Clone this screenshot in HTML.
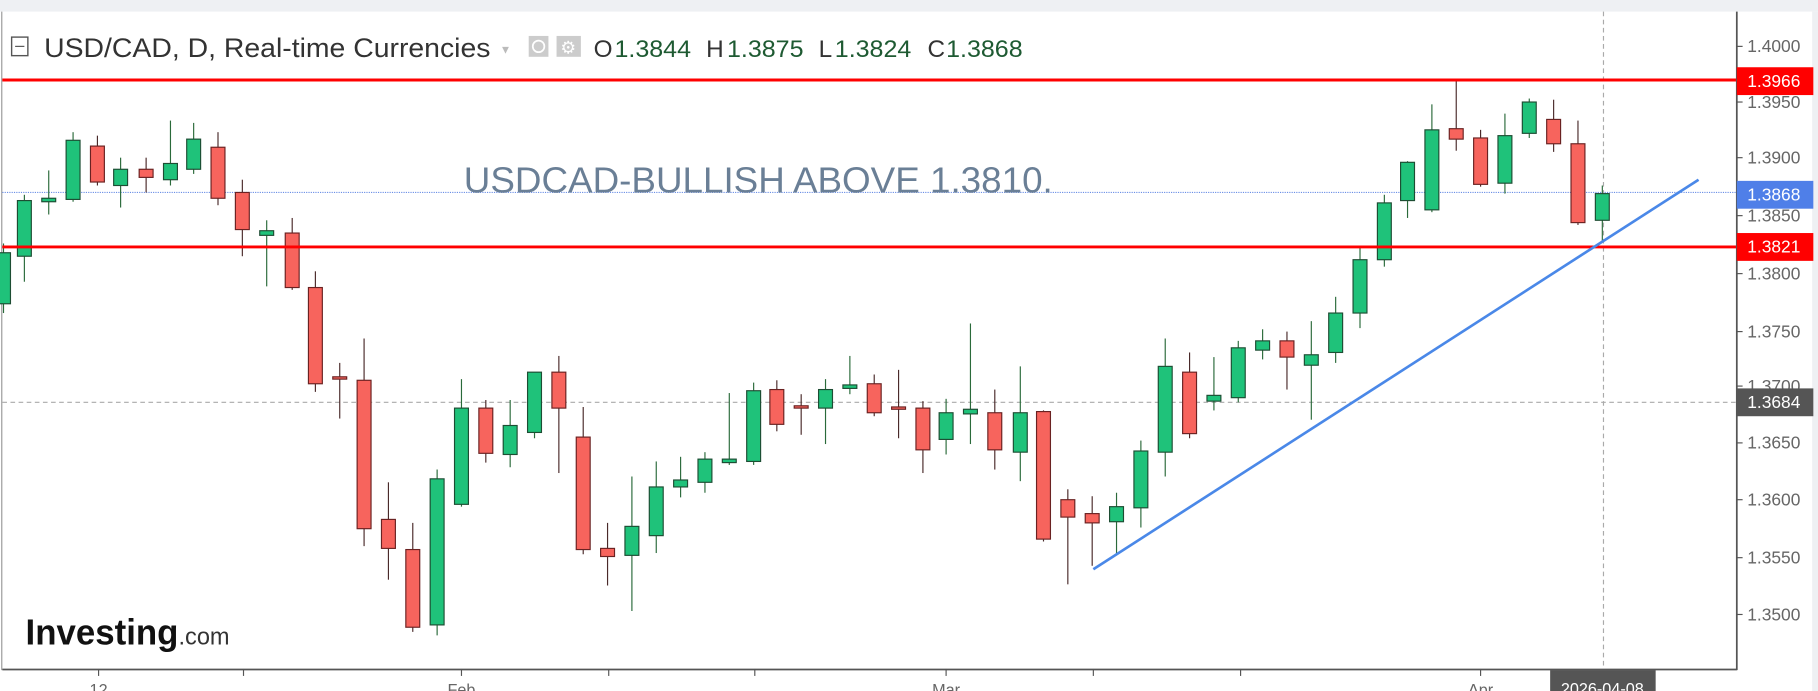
<!DOCTYPE html>
<html><head><meta charset="utf-8"><style>
html,body{margin:0;padding:0;background:#fff;overflow:hidden}
svg{display:block}
text{font-family:"Liberation Sans",Arial,sans-serif}
</style></head><body>
<svg width="1818" height="691" viewBox="0 0 1568 596" xmlns="http://www.w3.org/2000/svg">
<rect x="0" y="0" width="1568" height="596" fill="#fff"/>
<rect x="0" y="0" width="1568" height="10" fill="#eef0f3"/>
<rect x="1563" y="10" width="5" height="586" fill="#eef0f3"/>
<line x1="1.5" y1="10" x2="1.5" y2="578" stroke="#999" stroke-width="1"/>
<line x1="2" y1="166" x2="1498" y2="166" stroke="#6b8fe6" stroke-width="1" stroke-dasharray="1,1"/>
<line x1="2" y1="347" x2="1498" y2="347" stroke="#aaa" stroke-width="1" stroke-dasharray="4,3"/>
<line x1="1383" y1="10" x2="1383" y2="577" stroke="#aaa" stroke-width="1" stroke-dasharray="4,3"/>
<g id="candles"></g>
<line x1="2" y1="69" x2="1498" y2="69" stroke="#f00" stroke-width="2.5"/>
<line x1="2" y1="213" x2="1498" y2="213" stroke="#f00" stroke-width="2.5"/>
<line x1="943" y1="491" x2="1465" y2="155" stroke="#4a88e8" stroke-width="2.3"/>
<line x1="1498" y1="10" x2="1498" y2="578" stroke="#555" stroke-width="1.5"/>
<line x1="2" y1="577.5" x2="1498" y2="577.5" stroke="#555" stroke-width="1.5"/>
<g font-size="15" fill="#666">
<g stroke="#555"><line x1="1498" y1="40" x2="1503" y2="40"/><line x1="1498" y1="88" x2="1503" y2="88"/><line x1="1498" y1="136" x2="1503" y2="136"/><line x1="1498" y1="186" x2="1503" y2="186"/><line x1="1498" y1="236" x2="1503" y2="236"/><line x1="1498" y1="286" x2="1503" y2="286"/><line x1="1498" y1="333" x2="1503" y2="333"/><line x1="1498" y1="382" x2="1503" y2="382"/><line x1="1498" y1="431" x2="1503" y2="431"/><line x1="1498" y1="481" x2="1503" y2="481"/><line x1="1498" y1="530" x2="1503" y2="530"/></g>
<text x="1507" y="45">1.4000</text><text x="1507" y="93">1.3950</text><text x="1507" y="141">1.3900</text><text x="1507" y="191">1.3850</text><text x="1507" y="241">1.3800</text><text x="1507" y="291">1.3750</text><text x="1507" y="338">1.3700</text><text x="1507" y="387">1.3650</text><text x="1507" y="436">1.3600</text><text x="1507" y="486">1.3550</text><text x="1507" y="535">1.3500</text>
</g>
<g font-size="15" fill="#fff">
<rect x="1498" y="58" width="66" height="24" fill="#f00"/><text x="1507" y="75">1.3966</text>
<rect x="1498" y="156" width="66" height="24" fill="#4f7fe8"/><text x="1507" y="173">1.3868</text>
<rect x="1498" y="201" width="66" height="24" fill="#f00"/><text x="1507" y="218">1.3821</text>
<rect x="1498" y="335" width="66" height="24" fill="#555"/><text x="1507" y="352">1.3684</text>
</g>
<g stroke="#555"><line x1="85" y1="577" x2="85" y2="583"/><line x1="210" y1="577" x2="210" y2="583"/><line x1="398" y1="577" x2="398" y2="583"/><line x1="525" y1="577" x2="525" y2="583"/><line x1="651" y1="577" x2="651" y2="583"/><line x1="816" y1="577" x2="816" y2="583"/><line x1="943" y1="577" x2="943" y2="583"/><line x1="1070" y1="577" x2="1070" y2="583"/><line x1="1277" y1="577" x2="1277" y2="583"/></g>
<g font-size="14" fill="#666" text-anchor="middle"><text x="85" y="600">12</text><text x="398" y="600">Feb</text><text x="816" y="600">Mar</text><text x="1277" y="600">Apr</text></g>
<rect x="1337" y="578" width="91" height="20" fill="#555"/>
<text x="1382" y="599" font-size="14" fill="#fff" text-anchor="middle">2026-04-08</text>
<rect x="10" y="32" width="14" height="16" fill="none" stroke="#555" stroke-width="1.2"/><line x1="13" y1="40" x2="21" y2="40" stroke="#555"/>
<text x="38" y="49" font-size="23" fill="#333" textLength="385" lengthAdjust="spacingAndGlyphs">USD/CAD, D, Real-time Currencies</text>
<text x="431" y="46" font-size="10" fill="#bbb">▼</text>
<rect x="456" y="31" width="17" height="18" fill="#ccc"/><rect x="480" y="31" width="21" height="18" fill="#ccc"/>
<circle cx="464.5" cy="40" r="5" fill="none" stroke="#fff" stroke-width="1.5"/><text x="490" y="46" font-size="15" fill="#fff" text-anchor="middle">⚙</text>
<g font-size="21"><text x="512" y="49" fill="#333">O</text><text x="530" y="49" fill="#1e5a32" textLength="66" lengthAdjust="spacingAndGlyphs">1.3844</text><text x="609" y="49" fill="#333">H</text><text x="627" y="49" fill="#1e5a32" textLength="66" lengthAdjust="spacingAndGlyphs">1.3875</text><text x="706" y="49" fill="#333">L</text><text x="720" y="49" fill="#1e5a32" textLength="66" lengthAdjust="spacingAndGlyphs">1.3824</text><text x="800" y="49" fill="#333">C</text><text x="816" y="49" fill="#1e5a32" textLength="66" lengthAdjust="spacingAndGlyphs">1.3868</text></g>
<text x="400" y="166" font-size="31" fill="#6a7f96" textLength="508" lengthAdjust="spacingAndGlyphs">USDCAD-BULLISH ABOVE 1.3810.</text>
<text x="22" y="556" font-size="31" font-weight="bold" fill="#111" textLength="176" lengthAdjust="spacingAndGlyphs">Investing<tspan font-size="21" font-weight="normal" fill="#333">.com</tspan></text>
</svg>
<script>
var d=[[3,'g',210,218,262,270],[21,'g',168,173,221,243],[42,'g',147,171,174,185],[63,'g',114,121,172,174],[84,'r',117,126,157,160],[104,'g',136,146,160,179],[126,'r',136,146,153,166],[147,'g',104,141,155,160],[167,'g',106,120,146,150],[188,'r',114,127,171,177],[209,'r',155,166,198,221],[230,'g',190,199,203,247],[252,'r',188,201,248,250],[272,'r',234,248,331,338],[293,'r',313,325,327,361],[314,'r',292,328,456,471],[335,'r',416,448,473,500],[356,'r',451,474,541,545],[377,'g',405,413,539,548],[398,'g',327,352,435,437],[419,'r',345,352,391,399],[440,'g',345,367,392,403],[461,'g',321,321,373,378],[482,'r',307,321,352,408],[503,'r',351,377,474,478],[524,'r',451,473,480,505],[545,'g',411,454,479,527],[566,'g',398,420,462,477],[587,'g',394,414,420,429],[608,'g',390,396,416,425],[629,'g',339,396,399,401],[650,'g',330,337,398,401],[670,'r',328,336,366,372],[691,'r',340,350,352,375],[712,'g',327,336,352,383],[733,'g',307,332,335,340],[754,'r',323,331,356,359],[775,'r',319,351,353,378],[796,'r',346,352,388,408],[816,'g',344,356,379,392],[837,'g',279,353,357,383],[858,'r',336,356,388,405],[880,'g',316,356,390,415],[900,'r',354,355,465,467],[921,'r',422,431,446,504],[942,'r',428,443,451,488],[963,'g',425,437,450,478],[984,'g',380,389,438,455],[1005,'g',292,316,390,411],[1026,'r',304,321,374,378],[1047,'g',308,341,346,354],[1068,'g',294,300,343,347],[1089,'g',284,294,302,310],[1110,'r',286,294,308,336],[1131,'g',277,306,315,362],[1152,'g',256,270,304,313],[1173,'g',213,224,270,283],[1194,'g',168,175,224,230],[1214,'g',139,140,173,188],[1235,'g',90,112,181,183],[1256,'r',68,111,120,130],[1277,'r',112,119,159,161],[1298,'g',98,117,158,167],[1319,'g',85,88,115,119],[1340,'r',86,103,124,131],[1361,'r',104,124,192,194],[1382,'g',160,167,190,209]];
var s='';d.forEach(function(c){var x=c[0],g=c[1]=='g';var f=g?'#1fc27a':'#f7645d',st=g?'#1d4d33':'#6a2222';var w=g?'#2a6a3a':'#4a2a2a';
s+='<line x1="'+x+'" y1="'+c[2]+'" x2="'+x+'" y2="'+c[5]+'" stroke="'+w+'" stroke-width="1"/>';
var h=Math.max(2,c[4]-c[3]);s+='<rect x="'+(x-6)+'" y="'+c[3]+'" width="12" height="'+h+'" fill="'+f+'" stroke="'+st+'" stroke-width="1"/>';});
document.getElementById('candles').innerHTML=s;
</script>
</body></html>
